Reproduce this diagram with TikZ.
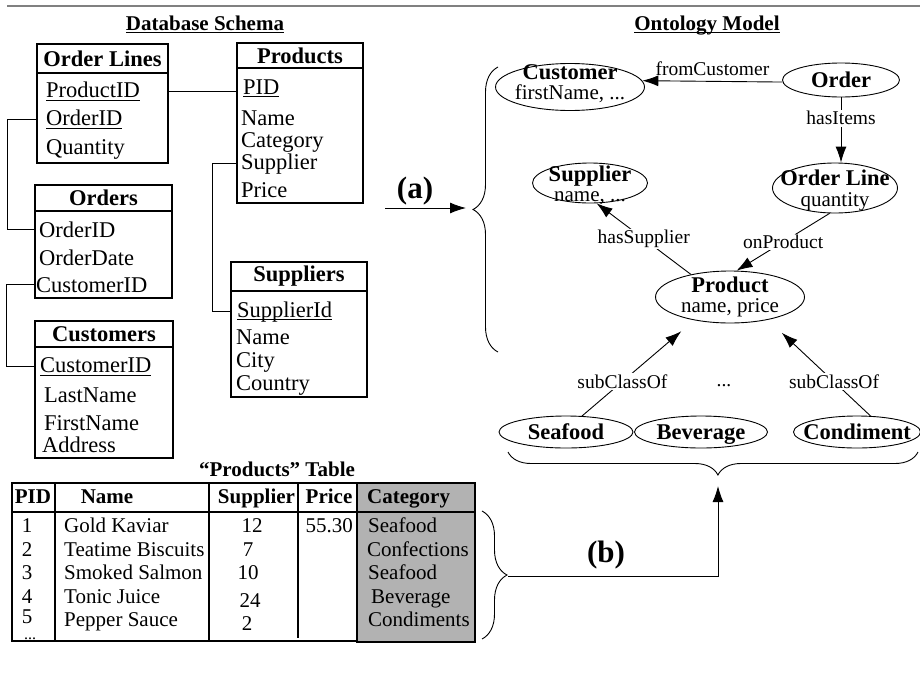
\documentclass[tikz,border=0pt]{standalone}
\usepackage{fontspec}
\setmainfont{Liberation Serif}
\usetikzlibrary{shapes.geometric,arrows.meta,decorations.pathreplacing}

\definecolor{rulegray}{RGB}{128,128,128}
\definecolor{catgray}{RGB}{178,178,178}

\newcommand{\key}[2][-4pt]{\setbox0=\hbox{#2}\rlap{\usebox0}\raisebox{#1}{\rule{\wd0}{1.1pt}}}
\newcommand{\cptx}[4]{\raisebox{#1}[0pt][0pt]{\makebox[0pt]{\begin{tabular}{@{}c@{}}{\fontsize{22.5}{23}\selectfont\bfseries #3}\\[#2]#4\end{tabular}}}}
\newcommand{\cptb}[1]{\raisebox{-7pt}[0pt][0pt]{\makebox[0pt]{\fontsize{22.5}{23}\selectfont\bfseries #1}}}

\begin{document}
\begin{tikzpicture}[x=1pt, y=-1pt,
  every node/.style={inner sep=0pt},
  box/.style={draw, line width=1.2pt},
  ttl/.style={box, font=\fontsize{22.5}{27}\selectfont\bfseries},
  fld/.style={anchor=base west, font=\fontsize{22.5}{27}\selectfont},
  heading/.style={anchor=base, font=\fontsize{21}{25}\selectfont\bfseries},
  link/.style={line width=0.9pt},
  arr/.style={line width=0.9pt, -{Latex[length=16pt, width=11pt]}},
  concept/.style={draw, ellipse, line width=0.9pt, font=\fontsize{21}{23}\selectfont},
  rel/.style={font=\fontsize{19.5}{22}\selectfont, fill=white, inner sep=1.5pt},
  brc/.style={decorate, decoration={brace, amplitude=#1}, line width=0.9pt},
  tag/.style={font=\fontsize{31}{36}\selectfont\bfseries},
  tline/.style={line width=1.2pt},
  thead/.style={anchor=base, font=\fontsize{21}{25}\selectfont\bfseries},
  tcell/.style={anchor=base, font=\fontsize{21}{25}\selectfont},
  tcellw/.style={tcell, anchor=base west},
  tcelle/.style={tcell, anchor=base east}]

  \useasboundingbox (0, 0) rectangle (920, 675);
  \draw [rulegray, line width=2.2pt] (7, 6) -- (920, 6);

  \node [heading] (dbh) at (205, 30) {\key[-3pt]{Database Schema}};
  \node [heading] (onh) at (707, 30) {\key[-3pt]{Ontology Model}};

  \node [ttl, minimum width=131pt, minimum height=29pt] (olT) at (102.5, 58.5) {Order Lines};
  \node [box, minimum width=131pt, minimum height=90pt] (olB) at (102.5, 118) {};
  \node [fld] (olpid) at (46, 97) {\key{ProductID}};
  \node [fld] (oloid) at (46, 125) {\key{OrderID}};
  \node [fld] (olqty) at (46, 154) {Quantity};

  \node [ttl, minimum width=126pt, minimum height=25pt] (pT) at (300, 55.5) {Products};
  \node [box, minimum width=126pt, minimum height=135pt] (pB) at (300, 135.5) {};
  \node [fld] (ppid) at (243, 94) {\key[-3pt]{PID}};
  \node [fld] (pname) at (241, 125) {Name};
  \node [fld] (pcat) at (241, 147) {Category};
  \node [fld] (psup) at (241, 169) {Supplier};
  \node [fld] (pprice) at (241, 197) {Price};

  \node [ttl, minimum width=137pt, minimum height=26pt] (oT) at (103.5, 198) {Orders};
  \node [box, minimum width=137pt, minimum height=87pt] (oB) at (103.5, 254.5) {};
  \node [fld] (ooid) at (39, 237) {OrderID};
  \node [fld] (odate) at (39, 265) {OrderDate};
  \node [fld] (ocid) at (36, 292) {CustomerID};

  \node [ttl, minimum width=138pt, minimum height=26pt] (cT) at (104, 334) {Customers};
  \node [box, minimum width=138pt, minimum height=111pt] (cB) at (104, 402.5) {};
  \node [fld] (ccid) at (40, 372) {\key{CustomerID}};
  \node [fld] (clast) at (44, 402) {LastName};
  \node [fld] (cfirst) at (44, 430) {FirstName};
  \node [fld] (caddr) at (42, 452) {Address};

  \node [ttl, minimum width=136pt, minimum height=29pt] (sT) at (299, 276.5) {Suppliers};
  \node [box, minimum width=136pt, minimum height=106pt] (sB) at (299, 344) {};
  \node [fld] (ssid) at (237, 317) {\key[-3pt]{SupplierId}};
  \node [fld] (sname) at (236, 344) {Name};
  \node [fld] (scity) at (236, 367) {City};
  \node [fld] (scountry) at (236, 390) {Country};

  \draw [link] (olpid -| olB.east) to (olpid -| pB.west);
  \draw [link] (oloid -| olB.west) -- ++(-29, 0) |- (ooid -| oB.west);
  \draw [link] (ocid -| oB.west) -- ++(-28, 0) |- (ccid -| cB.west);
  \draw [link] (psup -| pB.west) -- ++(-24, 0) |- (ssid -| sB.west);

  \coordinate (atail) at (385, 208);
  \coordinate (ahead) at (466, 208);
  \draw [arr] (atail) to (ahead);
  \node [tag] (alab) at (415, 191) {(a)};
  \draw [brc=25pt] (498, 352) -- (498, 67);

  \node [concept, minimum width=149pt, minimum height=47pt] (cust) at (570, 87) {\cptx{-2.7pt}{-3pt}{Customer}{firstName, ...}};
  \node [concept, minimum width=117pt, minimum height=34pt] (ord) at (841, 80) {\cptb{Order}};
  \node [concept, minimum width=115pt, minimum height=40pt] (sup) at (590, 183) {\cptx{-8.7pt}{-3pt}{Supplier}{name, ...}};
  \node [concept, minimum width=125pt, minimum height=50pt] (ordl) at (835, 188) {\cptx{-8.2pt}{-2pt}{Order Line}{quantity}};
  \node [concept, minimum width=149pt, minimum height=52pt] (prod) at (730, 297) {\cptx{-5.7pt}{-3pt}{Product}{name, price}};
  \node [concept, minimum width=134pt, minimum height=32pt] (sea) at (566, 432) {\cptb{Seafood}};
  \node [concept, minimum width=133pt, minimum height=32pt] (bev) at (701, 432) {\cptb{Beverage}};
  \node [concept, minimum width=127pt, minimum height=32pt] (cond) at (857, 432) {\cptb{Condiment}};
  \node [rel, fill=none] (more) at (724, 386) {...};

  \draw [arr] (ord.182) to node [rel, midway, above=4pt, fill=none] {fromCustomer} (cust.5);
  \draw [arr] (ord.south) -- node [rel, pos=0.32] {hasItems} (ord.south |- ordl.north);
  \draw [arr] (prod.150) -- node [rel] {hasSupplier} (sup.-72);
  \draw [arr] (ordl.-102) -- node [rel] {onProduct} (prod.76);
  \draw [arr, shorten >=17pt] (sea.45) -- node [rel, pos=0.36] {subClassOf} (prod.213);
  \draw [arr, shorten >=19pt] (cond.50) -- node [rel, pos=0.355] {subClassOf} (prod.-31);

  \draw [line width=0.9pt, decorate, decoration={brace, amplitude=23pt, aspect=0.488}] (918, 452) -- (508, 452);

  \node [heading] (tabh) at (277, 476) {“Products” Table};
  \fill [catgray] (357, 483) rectangle (475, 642);
  \draw [tline] (12, 483) rectangle (357, 641);
  \draw [tline] (12, 512) -- (475, 512);
  \draw [tline] (55, 483) -- (55, 641);
  \draw [tline] (209, 483) -- (209, 641);
  \draw [tline] (298, 483) -- (298, 638);
  \draw [line width=2.2pt] (357, 483) rectangle (475, 642);

  \node [thead] (hpid) at (33, 503) {PID};
  \node [thead] (hname) at (107, 503) {Name};
  \node [thead] (hsup) at (256.5, 503) {Supplier};
  \node [thead] (hprice) at (329, 503) {Price};
  \node [thead, anchor=base west] (hcat) at (367, 503) {Category};

  \node [tcell] (p1) at (27, 532) {1};
  \node [tcell] (p2) at (27, 556) {2};
  \node [tcell] (p3) at (27, 579) {3};
  \node [tcell] (p4) at (27, 603) {4};
  \node [tcell] (p5) at (27, 623) {5};
  \node [tcell, font=\fontsize{16}{18}\selectfont] (pdots) at (30, 639) {...};

  \node [tcellw] (n1) at (64, 532) {Gold Kaviar};
  \node [tcellw] (n2) at (64, 556) {Teatime Biscuits};
  \node [tcellw] (n3) at (64, 579) {Smoked Salmon};
  \node [tcellw] (n4) at (64, 603) {Tonic Juice};
  \node [tcellw] (n5) at (64, 626) {Pepper Sauce};

  \node [tcell] (s1) at (252, 532) {12};
  \node [tcell] (s2) at (248, 556) {7};
  \node [tcell] (s3) at (248, 579) {10};
  \node [tcell] (s4) at (250, 607) {24};
  \node [tcell] (s5) at (247, 630) {2};

  \node [tcelle] (pr1) at (353, 532) {55.30};

  \node [tcellw] (c1) at (368, 532) {Seafood};
  \node [tcellw] (c2) at (367, 556) {Confections};
  \node [tcellw] (c3) at (368, 579) {Seafood};
  \node [tcellw] (c4) at (371, 603) {Beverage};
  \node [tcellw] (c5) at (368, 626) {Condiments};

  \draw [brc=25pt] (482, 511) -- (482, 639);
  \coordinate (btail) at (508, 576);
  \coordinate (bhead) at (718, 486);
  \draw [arr] (btail) -| (bhead);
  \node [tag] (blab) at (606, 555) {(b)};
\end{tikzpicture}
\end{document}
